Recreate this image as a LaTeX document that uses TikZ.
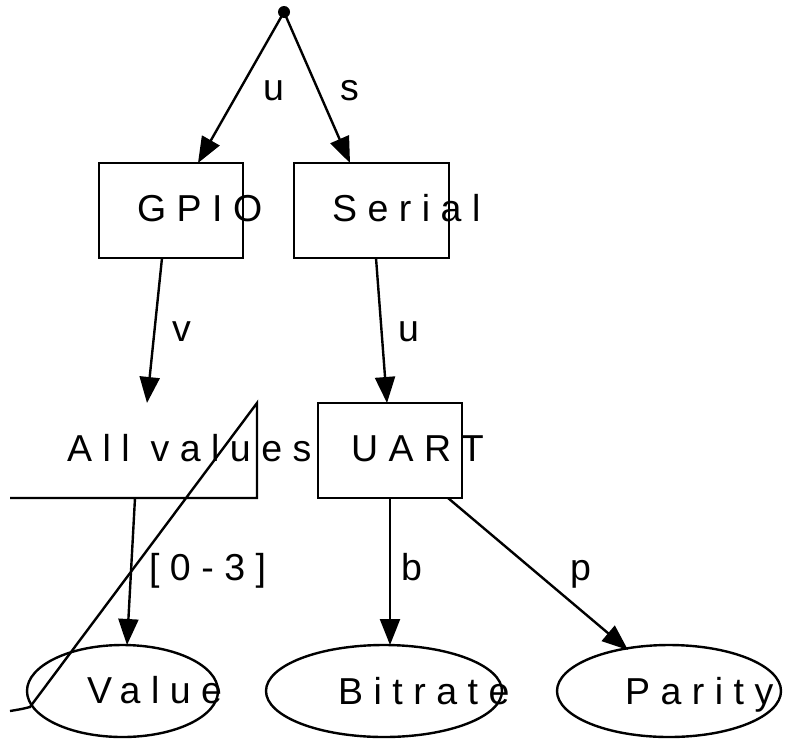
\documentclass[tikz,border=0pt]{standalone}
\usepackage{fontspec}
\setmainfont{Liberation Sans}[LetterSpace=28]
\usetikzlibrary{arrows.meta,shapes.geometric,calc}
\begin{document}
\begin{tikzpicture}[x=1pt,y=-1pt,
  every node/.style={inner sep=0pt,outer sep=0pt},
  lbl/.style={anchor=base west,font=\fontsize{37.5}{44}\selectfont},
  box/.style={draw,line width=2.4pt,rectangle,minimum height=95pt},
  oval/.style={draw,line width=2.4pt,ellipse,minimum height=92pt},
  edge/.style={line width=2.4pt,-{Triangle[length=26pt,width=20pt]}},
  plain/.style={line width=2.4pt}]
\useasboundingbox (0,0) rectangle (791,744);
% nodes
\node[circle,fill,minimum size=12pt] (dot) at (284,12) {};
\node[box,minimum width=144pt] (gpio) at (171,210.5) {};
\node[box,minimum width=155pt] (serial) at (371.5,210.5) {};
\node[box,minimum width=144pt] (uart) at (390,450.5) {};
\node[oval,minimum width=191pt] (value) at (122.5,691) {};
\node[oval,minimum width=236pt] (bitrate) at (384,691) {};
\node[oval,minimum width=224pt] (parity) at (669,691) {};
\coordinate (avtop) at (147,403);
\coordinate (avbot) at (135,498);
% odd shape of "All values"
\coordinate (avtr) at (257,403);
\coordinate (avbr) at (257,498);
\coordinate (avbl) at (10,498);
\coordinate (avtail) at (10,711);
\draw[plain] (avbl) -- (avbr) -- (avtr) -- (30,707) .. controls (22,709) .. (avtail);
% texts
\node[lbl] (tgpio) at (137,221) {GPIO};
\node[lbl] (tserial) at (332,221) {Serial};
\node[lbl] (tall) at (67,461) {All values};
\node[lbl] (tuart) at (351,461) {UART};
\node[lbl] (tvalue) at (87,703) {Value};
\node[lbl] (tbitrate) at (338,704) {Bitrate};
\node[lbl] (tparity) at (625,704) {Parity};
% edges
\draw[edge] (dot.center) -- ($(gpio.north)+(27,0)$);
\draw[edge] (dot.center) -- ($(serial.north)+(-21.5,0)$);
\draw[edge] ($(gpio.south)+(-9,0)$) -- (avtop);
\draw[edge] ($(serial.south)+(4.5,0)$) -- ($(uart.north)+(-3,0)$);
\draw[edge] (avbot) -- ($(value.north)+(4.5,0)$);
\draw[edge] (uart.south) -- ($(bitrate.north)+(6,0)$);
\draw[edge] ($(uart.south)+(58,0)$) -- (628,650);
% edge labels
\node[lbl] (l1) at (263,100) {u};
\node[lbl] (l2) at (340,100) {s};
\node[lbl] (l3) at (172,341) {v};
\node[lbl] (l4) at (398,341) {u};
\node[lbl] (l5) at (149,580) {[0-3]};
\node[lbl] (l6) at (401,580) {b};
\node[lbl] (l7) at (570,580) {p};
\end{tikzpicture}
\end{document}
